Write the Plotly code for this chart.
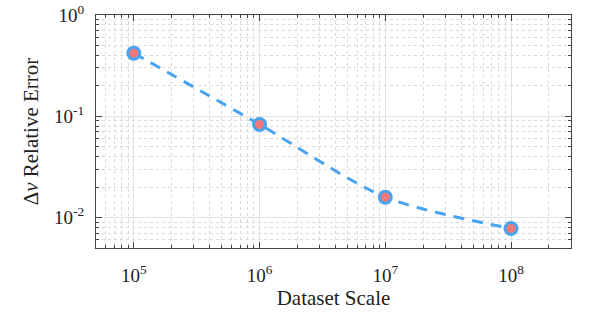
import plotly.graph_objects as go

dataset_scale = [1e5, 1e6, 1e7, 1e8]
relative_error = [0.42, 0.083, 0.0159, 0.0078]
x_tickvals = [1e5, 1e6, 1e7, 1e8]
x_ticktext = ["10<sup>5</sup>", "10<sup>6</sup>", "10<sup>7</sup>", "10<sup>8</sup>"]
y_tickvals = [1e-2, 1e-1, 1]
y_ticktext = ["10<sup>-2</sup>", "10<sup>-1</sup>", "10<sup>0</sup>"]

x_decades = [1e4, 1e5, 1e6, 1e7, 1e8]
y_decades = [1e-3, 1e-2, 1e-1]
x_minor = [d * k for d in x_decades for k in range(2, 10)]
y_minor = [d * k for d in y_decades for k in range(2, 10)]

fig = go.Figure()
fig.add_trace(go.Scatter(
    x=dataset_scale, y=relative_error, mode="lines+markers",
    line=dict(color="#4AA3EE", width=3, dash="11px,8px", shape="spline", smoothing=0.8),
    marker=dict(size=12, color="#F07878", line=dict(color="#4AA3EE", width=3)),
    showlegend=False,
))

def axis_common(minor_vals):
    return dict(
        type="log", showline=True, mirror="ticks", linecolor="#444444", linewidth=1,
        ticks="inside", ticklen=6, tickcolor="#444444",
        showgrid=True, gridcolor="#E2E2E2", gridwidth=1, zeroline=False,
        tickfont=dict(family="Liberation Serif", size=19, color="#222222"),
        ticklabeloverflow="allow",
        minor=dict(ticks="inside", ticklen=3, tickcolor="#444444", showgrid=True,
                   gridcolor="#DADADA", griddash="dot", tickmode="array", tickvals=minor_vals),
    )

fig.update_xaxes(**axis_common(x_minor), range=[4.699, 8.477], tickvals=x_tickvals, ticktext=x_ticktext,
                 ticklabelstandoff=10,
                 title=dict(text="Dataset Scale", font=dict(family="Liberation Serif", size=21, color="#222222"), standoff=3))
fig.update_yaxes(**axis_common(y_minor), range=[-2.301, 0], tickvals=y_tickvals, ticktext=y_ticktext,
                 ticklabelstandoff=7,
                 title=dict(text="Δ<i>v</i> Relative Error", font=dict(family="Liberation Serif", size=21, color="#222222"), standoff=9))

fig.update_layout(
    width=597, height=319, margin=dict(l=96, r=26, t=15, b=71, autoexpand=False),
    paper_bgcolor="white", plot_bgcolor="white",
)
fig.write_html("out.html", config={"displayModeBar": False},
               post_script="document.body.style.margin='0';")
